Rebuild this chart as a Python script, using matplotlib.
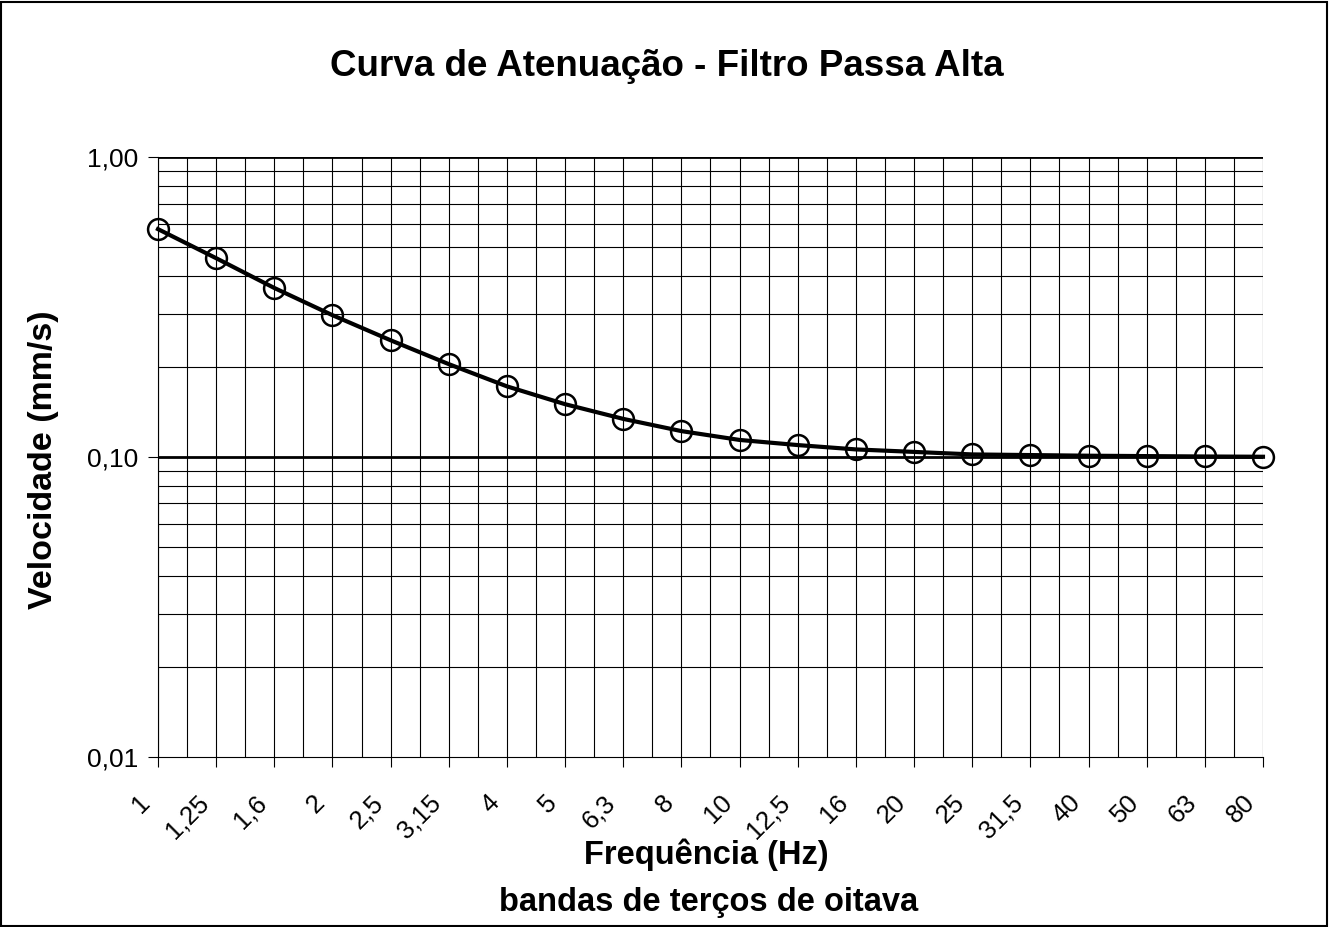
import matplotlib
matplotlib.use("Agg")
import matplotlib.pyplot as plt
import matplotlib.transforms as mtransforms
from matplotlib.patches import Rectangle
from matplotlib.ticker import FixedLocator, NullFormatter

plt.rcParams['font.family'] = ['Liberation Sans', 'DejaVu Sans']

# bandas de terço de oitava
bandas = ["1", "1,25", "1,6", "2", "2,5", "3,15", "4", "5", "6,3", "8",
          "10", "12,5", "16", "20", "25", "31,5", "40", "50", "63", "80"]
velocidade = [0.575, 0.46, 0.366, 0.297, 0.245, 0.204, 0.172, 0.150, 0.134, 0.122,
              0.114, 0.1096, 0.106, 0.104, 0.102, 0.1015, 0.101, 0.1007, 0.1004, 0.1002]
y_ticks = [0.01, 0.1, 1.0]
y_labels = ["0,01", "0,10", "1,00"]

fig = plt.figure(figsize=(13.3, 9.27), dpi=100)
ax = fig.add_axes([0.1188, 0.1834, 0.8308, 0.6472])

x = list(range(len(bandas)))
ax.plot(x, velocidade, color='black', lw=3, marker='o', ms=15,
        mfc='none', mec='black', mew=1.8, zorder=5, clip_on=False)

ax.set_yscale('log')
ax.set_ylim(0.01, 1.0)
ax.set_xlim(0, len(bandas) - 1)

# grade
for k in range(2 * (len(bandas) - 1) + 1):
    ax.axvline(k / 2, color='black', lw=0.8, zorder=1)
minor = [m * 10.0 ** e for e in (-2, -1) for m in range(2, 10)]
for v in minor:
    ax.axhline(v, color='black', lw=0.8, zorder=1)
ax.axhline(0.1, color='black', lw=2, zorder=2)
ax.axhline(1.0, color='black', lw=2, zorder=2)

ax.set_yticks(y_ticks)
ax.set_yticklabels(y_labels)
ax.yaxis.set_minor_locator(FixedLocator(minor))
ax.yaxis.set_minor_formatter(NullFormatter())
ax.tick_params(axis='y', which='minor', length=0)
ax.tick_params(axis='y', which='major', length=7, width=0.8, labelsize=19, pad=7)

ax.set_xticks(x)
ax.set_xticklabels(bandas, rotation=45, ha='right', va='top', rotation_mode='anchor')
ax.tick_params(axis='x', length=7, width=0.8, labelsize=18.5, pad=17)
shift = mtransforms.ScaledTranslation(-20 / 100, 0, fig.dpi_scale_trans)
for lbl in ax.get_xticklabels():
    lbl.set_transform(lbl.get_transform() + shift)

ax.spines['top'].set_visible(False)
ax.spines['right'].set_visible(False)
ax.spines['left'].set_linewidth(0.8)
ax.spines['bottom'].set_linewidth(0.8)

fig.text(667 / 1330, 1 - 67 / 927, "Curva de Atenuação - Filtro Passa Alta",
         ha='center', va='center', fontsize=26.5, fontweight='bold')
fig.text(44 / 1330, 1 - 460 / 927, "Velocidade (mm/s)", rotation=90,
         ha='center', va='center', fontsize=24.5, fontweight='bold')
fig.text(706 / 1330, 1 - 855 / 927, "Frequência (Hz)",
         ha='center', va='center', fontsize=23.5, fontweight='bold')
fig.text(709 / 1330, 1 - 902 / 927, "bandas de terços de oitava",
         ha='center', va='center', fontsize=23.5, fontweight='bold')

fig.patches.append(Rectangle((0.001, 0.001), 0.997, 0.997, transform=fig.transFigure,
                             fill=False, edgecolor='black', lw=1.5))

fig.savefig("out.png", dpi=100)
